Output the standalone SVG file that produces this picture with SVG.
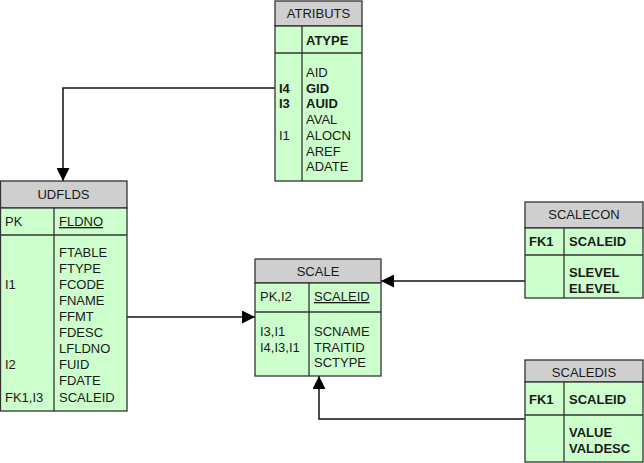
<svg xmlns="http://www.w3.org/2000/svg" width="644" height="463" viewBox="0 0 644 463">
<style>
.hdr{fill:#cfcfcf;stroke:#333;stroke-width:1.3}
.bd{fill:#ccffcc;stroke:#333;stroke-width:1.3}
.ln{stroke:#333;stroke-width:1.3;fill:none}
text{font-family:"Liberation Sans",Arial,sans-serif;font-size:13px;fill:#1a1a1a}
.t{text-anchor:middle}
.b{font-weight:bold}
.u{text-decoration:underline}
.cn{stroke:#111;stroke-width:1.5;fill:none}
</style>
<defs>
<marker id="ah" viewBox="0 0 13 13" refX="13" refY="6.5" markerWidth="13" markerHeight="13" markerUnits="userSpaceOnUse" orient="auto">
<path d="M0,0 L13,6.5 L0,13 Z" fill="#000"/>
</marker>
</defs>
<g id="connectors">
<path class="cn" d="M275,88 H63 V181" marker-end="url(#ah)"/>
<path class="cn" d="M127,317 H255" marker-end="url(#ah)"/>
<path class="cn" d="M525,281 H381" marker-end="url(#ah)"/>
<path class="cn" d="M525,419 H319 V376" marker-end="url(#ah)"/>
</g>
<g id="ATRIBUTS">
<rect class="hdr" x="275" y="1" width="87" height="25"/>
<rect class="bd" x="275" y="26" width="87" height="155"/>
<line class="ln" x1="275" y1="53" x2="362" y2="53"/>
<line class="ln" x1="302" y1="26" x2="302" y2="181"/>
<text class="t" x="318.5" y="18">ATRIBUTS</text>
<text class="b" x="306" y="45">ATYPE</text>
<text x="306" y="77">AID</text>
<text class="b" x="306" y="93">GID</text>
<text class="b" x="306" y="108">AUID</text>
<text x="306" y="124">AVAL</text>
<text x="306" y="140">ALOCN</text>
<text x="306" y="156">AREF</text>
<text x="306" y="171">ADATE</text>
<text class="b" x="279" y="93">I4</text>
<text class="b" x="279" y="108">I3</text>
<text x="279" y="140">I1</text>
</g>
<g id="UDFLDS">
<rect class="hdr" x="0.5" y="181" width="126.5" height="27"/>
<rect class="bd" x="0.5" y="208" width="126.5" height="203"/>
<line class="ln" x1="0" y1="235" x2="127" y2="235"/>
<line class="ln" x1="54" y1="208" x2="54" y2="411"/>
<text class="t" x="63.5" y="199">UDFLDS</text>
<text x="5" y="226">PK</text>
<text class="u" x="59" y="226">FLDNO</text>
<text x="59" y="257">FTABLE</text>
<text x="59" y="273">FTYPE</text>
<text x="59" y="289">FCODE</text>
<text x="59" y="305">FNAME</text>
<text x="59" y="321">FFMT</text>
<text x="59" y="337">FDESC</text>
<text x="59" y="353">LFLDNO</text>
<text x="59" y="369">FUID</text>
<text x="59" y="385">FDATE</text>
<text x="59" y="402">SCALEID</text>
<text x="5" y="289">I1</text>
<text x="5" y="369">I2</text>
<text x="5" y="402">FK1,I3</text>
</g>
<g id="SCALE">
<rect class="hdr" x="255" y="259" width="126" height="24"/>
<rect class="bd" x="255" y="283" width="126" height="93"/>
<line class="ln" x1="255" y1="312" x2="381" y2="312"/>
<line class="ln" x1="309" y1="283" x2="309" y2="376"/>
<text class="t" x="318" y="276">SCALE</text>
<text x="260" y="301">PK,I2</text>
<text class="u" x="314" y="301">SCALEID</text>
<text x="314" y="336">SCNAME</text>
<text x="314" y="352">TRAITID</text>
<text x="314" y="367">SCTYPE</text>
<text x="260" y="336">I3,I1</text>
<text x="260" y="352">I4,I3,I1</text>
</g>
<g id="SCALECON">
<rect class="hdr" x="525" y="202" width="118" height="26"/>
<rect class="bd" x="525" y="228" width="118" height="70"/>
<line class="ln" x1="525" y1="255" x2="643" y2="255"/>
<line class="ln" x1="564" y1="228" x2="564" y2="298"/>
<text class="t" x="584" y="219">SCALECON</text>
<text class="b" x="529" y="246">FK1</text>
<text class="b" x="569" y="246">SCALEID</text>
<text class="b" x="569" y="277">SLEVEL</text>
<text class="b" x="569" y="293">ELEVEL</text>
</g>
<g id="SCALEDIS">
<rect class="hdr" x="525" y="360" width="118" height="22"/>
<rect class="bd" x="525" y="382" width="118" height="80"/>
<line class="ln" x1="525" y1="415" x2="643" y2="415"/>
<line class="ln" x1="564" y1="382" x2="564" y2="462"/>
<text class="t" x="584" y="377">SCALEDIS</text>
<text class="b" x="529" y="404">FK1</text>
<text class="b" x="569" y="404">SCALEID</text>
<text class="b" x="569" y="437">VALUE</text>
<text class="b" x="569" y="453">VALDESC</text>
</g>
</svg>
